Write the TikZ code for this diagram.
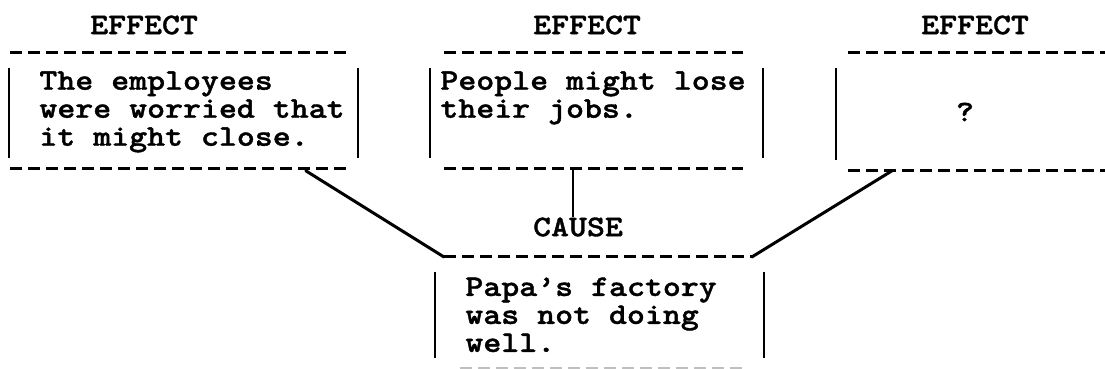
\documentclass[tikz,border=0pt]{standalone}
\usepackage{fontspec}
\setmonofont{lmmonolt10-regular.otf}[BoldFont=lmmonolt10-bold.otf, FakeStretch=1.14, BoldFeatures={FakeBold=1.2}]
\usetikzlibrary{calc}
\begin{document}
\begin{tikzpicture}[%
        x=0.5pt, y=-0.5pt,
        mytext/.style={font=\ttfamily\bfseries\fontsize{15pt}{14pt}\selectfont, inner sep=0pt},
        mybox/.style={shape=rectangle, inner sep=0pt, anchor=north west, minimum height=#1},
        mydash/.style={line width=1.5pt, dash pattern=on 6pt off 3pt},
        myside/.style={line width=1.2pt},
        mylink/.style={line width=1.5pt, line cap=round, line join=round}
    ]
    \useasboundingbox (0,0) rectangle (1105,369);
    % boxes
    \node [mybox=57.5pt, minimum width=167.5pt] (eone) at (10,53) {};
    \node [mybox=57.5pt, minimum width=149pt] (etwo) at (444,53) {};
    \node [mybox=58.5pt, minimum width=156pt] (ethree) at (848,53) {};
    \node [mybox=55.5pt, minimum width=153.5pt] (cause) at (444,257) {};
    \foreach \mynode/\myl/\myr in {eone/-1/12, etwo/-14/20, ethree/-12/0, cause/-9/12} {
        \draw [mydash] (\mynode.north west) -- (\mynode.north east);
        \draw [myside] ($(\mynode.north west)+(\myl,15)$) -- ($(\mynode.south west)+(\myl,-11)$);
        \draw [myside] ($(\mynode.north east)+(\myr,15)$) -- ($(\mynode.south east)+(\myr,-11)$);
    }
    \foreach \mynode in {eone, etwo, ethree}
        \draw [mydash] (\mynode.south west) -- (\mynode.south east);
    \draw [mydash, black!25] ($(cause.south west)+(16,0)$) -- ($(cause.south east)+(-8,0)$);
    % labels
    \node [mytext] (hone) at (144,25) {EFFECT};
    \node [mytext] (htwo) at (587,25) {EFFECT};
    \node [mytext] (hthree) at (975,25) {EFFECT};
    \node [mytext] (lcause) at (578,227) {CAUSE};
    \node [mytext, anchor=north west, align=left] (tone) at (39,71) {The employees\\were worried that\\it might close.};
    \node [mytext, anchor=north west, align=left] (ttwo) at (440,71) {People might lose\\their jobs.};
    \node [mytext] (tthree) at (965,112) {?};
    \node [mytext, anchor=north west, align=left] (tcause) at (465,277) {Papa’s factory\\was not doing\\well.};
    % links
    \coordinate (done) at ($(eone.south east)+(-40,2)$);
    \coordinate (dtwo) at ($(etwo.south west)+(129,0)$);
    \coordinate (dthree) at ($(ethree.south west)+(44,0)$);
    \draw [mylink] (done) -- (cause.north west);
    \draw [mylink] (dthree) -- (cause.north east);
    \draw [myside] (dtwo) -- (dtwo |- lcause.north);
\end{tikzpicture}
\end{document}
